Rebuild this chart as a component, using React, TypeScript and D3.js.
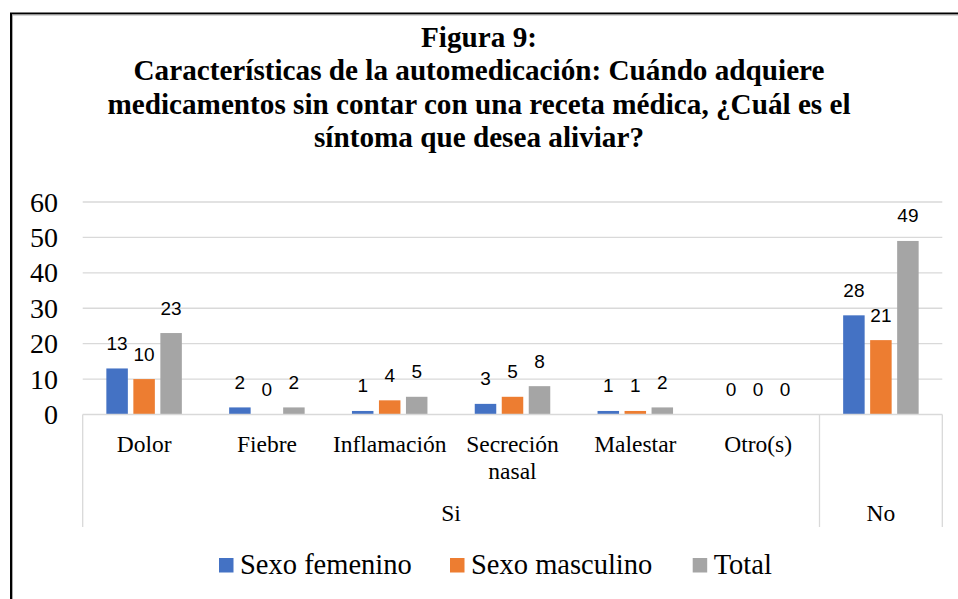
import React from "react";
import * as d3 from "d3";

// chart data
const categories = ["Dolor", "Fiebre", "Inflamación", "Secreción nasal", "Malestar", "Otro(s)", ""];
const groups = [
  { name: "Si", from: 0, to: 5 },
  { name: "No", from: 6, to: 6 },
];
const seriesNames = ["Sexo femenino", "Sexo masculino", "Total"];
const femenino = [13, 2, 1, 3, 1, 0, 28];
const masculino = [10, 0, 4, 5, 1, 0, 21];
const total = [23, 2, 5, 8, 2, 0, 49];
const yTicks = [0, 10, 20, 30, 40, 50, 60];
const titleLines = [
  "Figura 9:",
  "Características de la automedicación: Cuándo adquiere",
  "medicamentos sin contar con una receta médica, ¿Cuál es el",
  "síntoma que desea aliviar?",
];

const colors = ["#4472C4", "#ED7D31", "#A5A5A5"];
const serif = "Liberation Serif, Tinos, Times New Roman, Noto Serif, DejaVu Serif, serif";
const sans = "Liberation Sans, Arial, sans-serif";

const W = 958;
const H = 599;
const left = 82.7;
const right = 942.3;
const top = 202;
const bottom = 414.5;

const App = () => {
  const series = [femenino, masculino, total];

  // scales
  const x = d3.scaleBand<number>().domain(d3.range(categories.length)).range([left, right]);
  const y = d3.scaleLinear().domain([0, 60]).range([bottom, top]);
  const barW = 21.5;
  const inner = d3
    .scaleBand<number>()
    .domain([0, 1, 2])
    .range([0, 3 * barW + 2 * 5.5])
    .paddingInner(5.5 / (barW + 5.5));
  const groupOffset = (x.bandwidth() - (3 * barW + 2 * 5.5)) / 2;

  const legendX = [219, 450, 692.7];

  return (
    <svg width={W} height={H} style={{ position: "absolute", left: 0, top: 0 }}>
      <rect x={0} y={0} width={W} height={H} fill="#fff" />
      {/* frame */}
      <line x1={10} x2={W} y1={13.5} y2={13.5} stroke="#000" strokeWidth={2} />
      <line x1={11} x2={11} y1={13} y2={H} stroke="#000" strokeWidth={2} />
      <line x1={12} x2={W} y1={15} y2={15} stroke="#aaa" strokeWidth={1} />
      <line x1={12.5} x2={12.5} y1={15} y2={H} stroke="#aaa" strokeWidth={1} />

      {/* title */}
      {titleLines.map((t, i) => (
        <text
          key={i}
          x={479}
          y={46.5 + i * 33.5}
          textAnchor="middle"
          fontFamily={serif}
          fontWeight="bold"
          fontSize={29.2}
          fill="#000"
        >
          {t}
        </text>
      ))}

      {/* gridlines */}
      {yTicks.slice(1).map((t) => (
        <line key={t} x1={left} x2={right} y1={y(t)} y2={y(t)} stroke="#D9D9D9" strokeWidth={1.3} />
      ))}
      {yTicks.map((t) => (
        <text key={t} x={58} y={y(t) + 9.5} textAnchor="end" fontFamily={serif} fontSize={28} fill="#000">
          {t}
        </text>
      ))}

      {/* bars */}
      {series.map((vals, s) =>
        vals.map((v, i) => (
          <rect
            key={`${s}-${i}`}
            x={(x(i) as number) + groupOffset + (inner(s) as number)}
            y={y(v)}
            width={barW}
            height={bottom - y(v)}
            fill={colors[s]}
          />
        ))
      )}
      {series.map((vals, s) =>
        vals.map((v, i) => (
          <text
            key={`l${s}-${i}`}
            x={(x(i) as number) + groupOffset + (inner(s) as number) + barW / 2}
            y={y(v) - 18.5}
            textAnchor="middle"
            fontFamily={sans}
            fontSize={19}
            fill="#000"
          >
            {v}
          </text>
        ))
      )}

      {/* category axis */}
      <line x1={left} x2={right} y1={bottom} y2={bottom} stroke="#D9D9D9" strokeWidth={1.3} />
      {[left, x(6) as number, right].map((px, i) => (
        <line key={i} x1={px} x2={px} y1={bottom} y2={527} stroke="#D9D9D9" strokeWidth={1.3} />
      ))}
      {categories.map((c, i) => {
        const cx = (x(i) as number) + x.bandwidth() / 2;
        const parts = c === "Secreción nasal" ? ["Secreción", "nasal"] : [c];
        return parts.map((p, j) => (
          <text key={`${i}-${j}`} x={cx} y={452 + j * 27} textAnchor="middle" fontFamily={serif} fontSize={23.5} fill="#000">
            {p}
          </text>
        ));
      })}
      {groups.map((g) => {
        const gx = ((x(g.from) as number) + (x(g.to) as number) + x.bandwidth()) / 2;
        return (
          <text key={g.name} x={gx} y={521} textAnchor="middle" fontFamily={serif} fontSize={23.5} fill="#000">
            {g.name}
          </text>
        );
      })}

      {/* legend */}
      {seriesNames.map((n, i) => (
        <g key={n}>
          <rect x={legendX[i]} y={558} width={14.5} height={14.5} fill={colors[i]} />
          <text x={legendX[i] + 21} y={574} fontFamily={serif} fontSize={28.5} fill="#000">
            {n}
          </text>
        </g>
      ))}
    </svg>
  );
};

export default App;
